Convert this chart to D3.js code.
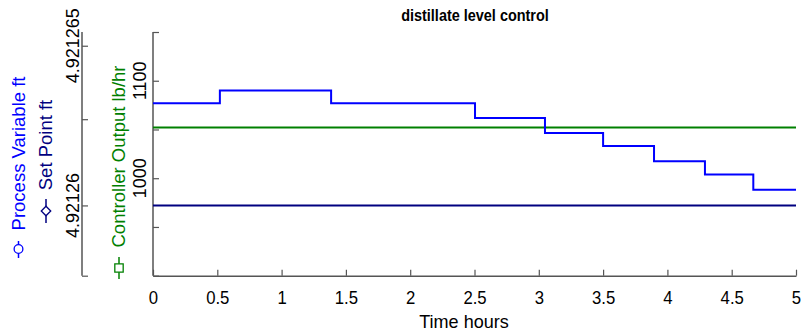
<!DOCTYPE html>
<html>
<head>
<meta charset="utf-8">
<script src="https://cdn.jsdelivr.net/npm/d3@7"></script>
<style>
  body { margin: 0; background: #fff; }
  svg { display: block; font-family: "Liberation Sans", Arial, sans-serif; }
</style>
</head>
<body>
<div id="chart"></div>
<script>
// step times (hours) and process variable levels (ft)
const pvTimes = [0, 0.52, 1.385, 2.504, 3.048, 3.5, 3.896, 4.292, 4.668, 5];
const pvLevels = [4.9212632, 4.9212636, 4.9212632, 4.92126274, 4.92126227, 4.92126186, 4.92126138, 4.92126097, 4.92126049, 4.92126049];
const spTimes = [0, 5];
const spLevels = [4.92126, 4.92126];
const coTimes = [0, 5];
const coLevels = [1052, 1052];

const xTicks = [0, 0.5, 1, 1.5, 2, 2.5, 3, 3.5, 4, 4.5, 5];
const ftDomain = [4.9212578, 4.92126543];
const ftTicks = [4.9212578, 4.92126, 4.9212627, 4.921265];
const ftTickLabels = ["", "4.92126", "", "4.921265"];
const coDomain = [900, 1150];
const coTicks = [900, 950, 1000, 1050, 1100, 1150];
const coTickLabels = ["", "", "1000", "", "1100", ""];

const width = 801, height = 334;
const dim = { left: 153, right: 796, top: 32, bottom: 275.7, ftAxisX: 82 };

const svg = d3.select("#chart").append("svg")
  .attr("width", width)
  .attr("height", height);

const x = d3.scaleLinear().domain([0, 5]).range([dim.left, dim.right]);
const yFt = d3.scaleLinear().domain(ftDomain).range([dim.bottom, dim.top]);
const yCo = d3.scaleLinear().domain(coDomain).range([dim.bottom, dim.top]);

const axisColor = "#555";
const tickFont = 17;

// bottom axis
const xAxis = svg.append("g")
  .attr("transform", `translate(0,${dim.bottom})`)
  .call(d3.axisBottom(x).tickValues(xTicks).tickSizeInner(-6).tickSizeOuter(0).tickFormat(d3.format("")));
xAxis.select(".domain").attr("stroke", axisColor).attr("stroke-width", 1.5);
xAxis.selectAll(".tick line").attr("stroke", axisColor).attr("stroke-width", 1.2);
xAxis.selectAll(".tick text")
  .attr("y", 28).attr("dy", 0)
  .attr("transform", "scale(0.88,1)")
  .attr("font-size", 19)
  .attr("font-family", "Liberation Sans, Arial, sans-serif")
  .attr("fill", "#000");

// controller output axis (inner)
const coAxis = svg.append("g")
  .attr("transform", `translate(${dim.left},0)`)
  .call(d3.axisRight(yCo).tickValues(coTicks).tickSize(6).tickFormat(""));
coAxis.select(".domain").attr("stroke", axisColor).attr("stroke-width", 1.5).attr("d", `M0,${dim.bottom}V${dim.top}`);
coAxis.selectAll(".tick line").attr("stroke", axisColor).attr("stroke-width", 1.2);
coAxis.selectAll(".lbl")
  .data(coTicks.map((v, i) => ({ v, t: coTickLabels[i] })).filter(d => d.t))
  .enter().append("text")
  .attr("transform", d => `translate(-7,${yCo(d.v)}) rotate(-90)`)
  .attr("text-anchor", "middle")
  .attr("font-size", 18)
  .attr("fill", "#000")
  .text(d => d.t);

// ft axis (outer)
const ftAxis = svg.append("g")
  .attr("transform", `translate(${dim.ftAxisX},0)`)
  .call(d3.axisRight(yFt).tickValues(ftTicks).tickSize(6).tickFormat(""));
ftAxis.select(".domain").attr("stroke", axisColor).attr("stroke-width", 1.5).attr("d", `M0,${dim.bottom}V${dim.top}`);
ftAxis.selectAll(".tick line").attr("stroke", axisColor).attr("stroke-width", 1.2);
ftAxis.selectAll(".lbl")
  .data(ftTicks.map((v, i) => ({ v, t: ftTickLabels[i] })).filter(d => d.t))
  .enter().append("text")
  .attr("transform", d => `translate(-3,${yFt(d.v)}) rotate(-90)`)
  .attr("text-anchor", "middle")
  .attr("font-size", 18)
  .attr("fill", "#000")
  .text(d => d.t);

// lines
const lineFt = d3.line().curve(d3.curveStepAfter).x(d => x(d[0])).y(d => yFt(d[1]));
const lineCo = d3.line().x(d => x(d[0])).y(d => yCo(d[1]));

svg.append("path")
  .attr("d", lineFt(spTimes.map((t, i) => [t, spLevels[i]])))
  .attr("fill", "none").attr("stroke", "#000080").attr("stroke-width", 2);
svg.append("path")
  .attr("d", lineCo(coTimes.map((t, i) => [t, coLevels[i]])))
  .attr("fill", "none").attr("stroke", "#008000").attr("stroke-width", 2);
svg.append("path")
  .attr("d", lineFt(pvTimes.map((t, i) => [t, pvLevels[i]])))
  .attr("fill", "none").attr("stroke", "#0000ff").attr("stroke-width", 2);

// title and x label
svg.append("text")
  .attr("transform", "translate(475,21) scale(0.85,1)")
  .attr("text-anchor", "middle")
  .attr("font-size", 17).attr("font-weight", "bold")
  .text("distillate level control");

svg.append("text")
  .attr("transform", "translate(464,328) scale(0.95,1)")
  .attr("text-anchor", "middle")
  .attr("font-size", 19)
  .text("Time hours");

// rotated y labels with legend markers
const labels = [
  { text: "Process Variable ft", color: "#0000ff", x: 18.5, y: 153.5, mk: "circle", my: 249, ml: [241, 258] },
  { text: "Set Point ft", color: "#000080", x: 46, y: 145, mk: "diamond", my: 211, ml: [199, 223] },
  { text: "Controller Output lb/hr", color: "#008000", x: 119, y: 156.5, mk: "square", my: 268, ml: [257, 279] }
];

labels.forEach(l => {
  svg.append("text")
    .attr("transform", `translate(${l.x},${l.y}) rotate(-90)`)
    .attr("dy", "0.35em")
    .attr("text-anchor", "middle")
    .attr("font-size", 18.5)
    .attr("fill", l.color)
    .text(l.text);
  svg.append("line")
    .attr("x1", l.x).attr("x2", l.x)
    .attr("y1", l.ml[0]).attr("y2", l.ml[1])
    .attr("stroke", l.color).attr("stroke-width", 1.5);
  const sym = l.mk === "circle" ? d3.symbolCircle : d3.symbolSquare;
  const size = l.mk === "circle" ? 60 : l.mk === "diamond" ? 45 : 70;
  svg.append("path")
    .attr("d", d3.symbol().type(sym).size(size)())
    .attr("transform", `translate(${l.x},${l.my})` + (l.mk === "diamond" ? " rotate(45)" : ""))
    .attr("fill", "#fff")
    .attr("stroke", l.color)
    .attr("stroke-width", 1.3);
});
</script>
</body>
</html>
